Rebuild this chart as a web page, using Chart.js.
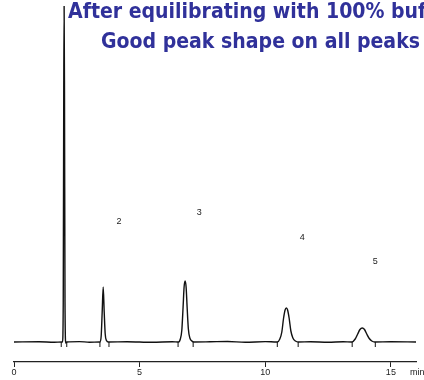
<!DOCTYPE html>
<html>
<head>
<meta charset="utf-8">
<script src="https://cdn.jsdelivr.net/npm/chart.js@4.4.1/dist/chart.umd.min.js"></script>
<style>
  html, body { margin: 0; padding: 0; background: #fff; }
  #wrap { width: 424px; height: 380px; position: relative; }
</style>
</head>
<body>
<div id="wrap"><canvas id="chrom"></canvas></div>
<script>
// retention time (min) and detector response
const times = [
  0, 1.0, 1.6, 1.90,
  1.93, 1.96, 1.98, 1.995, 2.01, 2.03, 2.06, 2.10,
  2.6, 3.0, 3.40,
  3.42, 3.47, 3.51, 3.55, 3.59, 3.63, 3.68, 3.76,
  4.5, 5.5, 6.3, 6.53,
  6.55, 6.62, 6.68, 6.73, 6.77, 6.81, 6.85, 6.89, 6.94, 7.00, 7.08, 7.16,
  7.8, 8.5, 9.2, 10.0, 10.46,
  10.48, 10.58, 10.66, 10.73, 10.79, 10.84, 10.89, 10.95, 11.02, 11.10, 11.20, 11.32,
  11.8, 12.5, 13.1, 13.43,
  13.45, 13.58, 13.68, 13.77, 13.86, 13.95, 14.04, 14.14, 14.24, 14.36,
  15.0, 16.0
];
const signal = [
  0, 0.3, -0.3, 0,
  0, 40, 250, 336, 250, 40, -1, 0,
  0.4, -0.2, 0,
  0, 6, 30, 55, 30, 8, 1.5, 0,
  0.3, -0.3, 0.2, 0,
  0, 3, 12, 35, 55, 61, 55, 35, 13, 4, 1, 0,
  0.2, 0.5, -0.3, 0.4, 0,
  0, 3, 10, 24, 32, 34, 32, 24, 11, 4, 1, 0,
  0.3, -0.2, 0.3, 0,
  0, 3, 8, 12.5, 14, 12.5, 8, 3.5, 1, 0,
  0.2, 0
];

// integration event marks on the baseline
const markTimes = [2.10, 3.78, 7.13, 11.31, 14.38, 1.88, 3.42, 6.53, 10.48, 13.46];

// peak labels
const peakNames = ['2', '3', '4', '5'];
const peakTimes = [4.18, 7.37, 11.47, 14.38];
const peakSignals = [120, 129, 104, 80];

const tickValues = [0, 5, 10, 15];
const titleLines = ['After equilibrating with 100% buffer', 'Good peak shape on all peaks'];

const overlay = {
  id: 'overlay',
  afterDraw(chart) {
    const ctx = chart.ctx;
    const xs = chart.scales.x, ys = chart.scales.y;
    ctx.save();
    // peak numbers
    ctx.fillStyle = '#222';
    ctx.font = '9px "Liberation Sans", Arial, sans-serif';
    ctx.textAlign = 'center';
    ctx.textBaseline = 'middle';
    peakNames.forEach((n, i) => {
      ctx.fillText(n, xs.getPixelForValue(peakTimes[i]), ys.getPixelForValue(peakSignals[i]));
    });
    // unit
    ctx.textAlign = 'left';
    ctx.fillText('min', xs.right - 6, xs.bottom - 7);
    // title
    ctx.fillStyle = '#30319a';
    ctx.font = 'bold 22px "Liberation Sans Narrow", "DejaVu Sans Condensed", sans-serif';
    ctx.textBaseline = 'alphabetic';
    const w = ctx.measureText(titleLines[1]).width;
    const k = 319 / w;
    ctx.save();
    ctx.translate(68, 18);
    ctx.scale(k, 1);
    ctx.fillText(titleLines[0], 0, 0);
    ctx.restore();
    ctx.save();
    ctx.translate(101, 48);
    ctx.scale(k, 1);
    ctx.fillText(titleLines[1], 0, 0);
    ctx.restore();
    ctx.restore();
  }
};

new Chart(document.getElementById('chrom'), {
  type: 'line',
  data: {
    datasets: [
      {
        data: times.map((t, i) => ({ x: t, y: signal[i] })),
        borderColor: '#111',
        borderWidth: 1.4,
        pointRadius: 0,
        cubicInterpolationMode: 'monotone',
        fill: false
      },
      {
        data: markTimes.map(t => ({ x: t, y: -2.5 })),
        showLine: false,
        pointStyle: 'line',
        rotation: 90,
        pointRadius: 2.5,
        borderColor: '#111',
        borderWidth: 1
      }
    ]
  },
  options: {
    responsive: true,
    maintainAspectRatio: false,
    animation: false,
    layout: { padding: { left: 14, right: 8, top: 6, bottom: 0 } },
    plugins: { legend: { display: false }, tooltip: { enabled: false }, title: { display: false } },
    scales: {
      x: {
        type: 'linear',
        min: 0,
        max: 16,
        afterBuildTicks: s => { s.ticks = tickValues.map(v => ({ value: v })); },
        afterFit: s => { s.height = 18; },
        grid: { display: true, drawOnChartArea: false, drawTicks: true, tickLength: 5, color: '#222' },
        border: { display: true, color: '#222', width: 1.2 },
        ticks: { color: '#222', padding: 0, maxRotation: 0, font: { size: 9, family: '"Liberation Sans", Arial, sans-serif' } }
      },
      y: { display: false, min: -20, max: 336 }
    }
  },
  plugins: [overlay]
});
</script>
</body>
</html>
